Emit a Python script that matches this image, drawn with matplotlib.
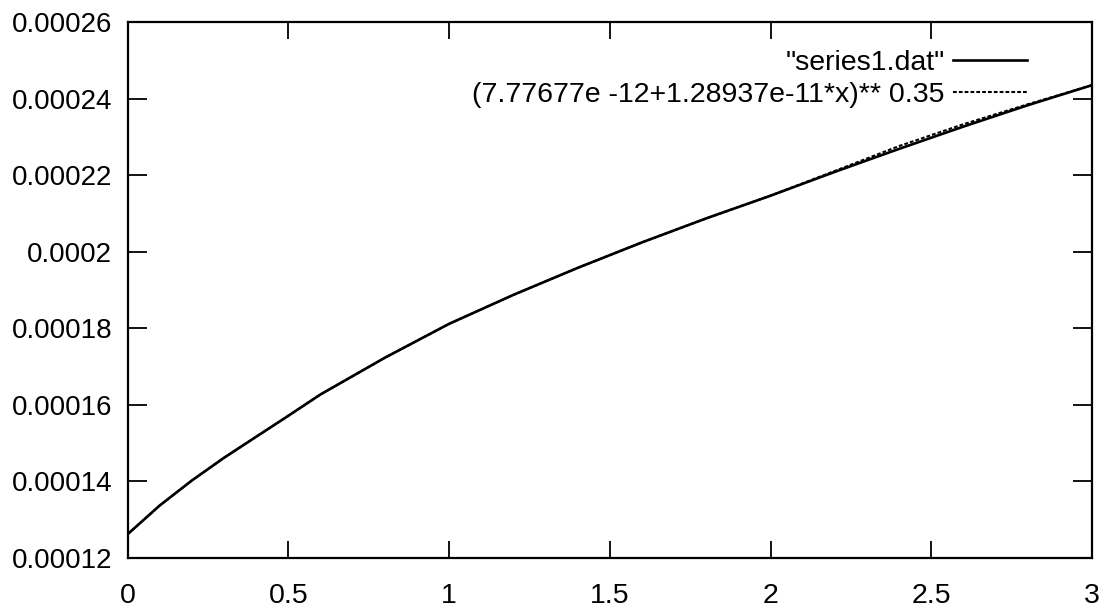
import matplotlib
matplotlib.use("Agg")
import numpy as np
from matplotlib import pyplot as plt

# values
x_data = [0, 0.1, 0.2, 0.3, 0.4, 0.5, 0.6, 0.8, 1.0, 1.2, 1.4, 1.6, 1.8,
          2.0, 2.2, 2.4, 2.6, 2.8, 3.0]
y_data = [1.2619e-4, 1.3371e-4, 1.4024e-4, 1.4617e-4, 1.5166e-4, 1.5714e-4,
          1.6271e-4, 1.7229e-4, 1.8115e-4, 1.8872e-4, 1.9577e-4, 2.0243e-4,
          2.0870e-4, 2.1463e-4, 2.2085e-4, 2.2686e-4, 2.3268e-4, 2.3825e-4,
          2.4350e-4]
# fitted curve, sits on the data except a small bump near x = 2.5
y_fit = [1.2619e-4, 1.3371e-4, 1.4024e-4, 1.4617e-4, 1.5166e-4, 1.5714e-4,
         1.6271e-4, 1.7229e-4, 1.8115e-4, 1.8872e-4, 1.9577e-4, 2.0243e-4,
         2.0870e-4, 2.1463e-4, 2.2110e-4, 2.2760e-4, 2.3330e-4, 2.3850e-4,
         2.4350e-4]

label_data = '"series1.dat"'
label_fit = '(7.77677e -12+1.28937e-11*x)** 0.35'

x_ticks = [0, 0.5, 1, 1.5, 2, 2.5, 3]
x_ticklabels = ['0', '0.5', '1', '1.5', '2', '2.5', '3']
y_ticks = [0.00012, 0.00014, 0.00016, 0.00018, 0.0002, 0.00022, 0.00024, 0.00026]
y_ticklabels = ['0.00012', '0.00014', '0.00016', '0.00018', '0.0002',
                '0.00022', '0.00024', '0.00026']

plt.rcParams['font.family'] = ['Liberation Sans', 'DejaVu Sans']
fs = 20.5

fig = plt.figure(figsize=(11.11, 6.14), dpi=100)
ax = fig.add_axes([0.1148, 0.0912, 0.8681, 0.8730])

ax.plot(x_data, y_data, color='black', lw=1.9, label=label_data)
ax.plot(x_data, y_fit, color='black', lw=1.5, linestyle=(0, (1.8, 1.0)),
        label=label_fit)

ax.set_xlim(0, 3)
ax.set_ylim(0.00012, 0.00026)
ax.set_xticks(x_ticks)
ax.set_xticklabels(x_ticklabels, fontsize=fs)
ax.set_yticks(y_ticks)
ax.set_yticklabels(y_ticklabels, fontsize=20)
ax.tick_params(axis='both', direction='in', top=True, right=True, width=1.3,
               color='black')
ax.tick_params(axis='x', length=12, pad=18)
ax.tick_params(axis='y', length=14, pad=11)
for s in ax.spines.values():
    s.set_linewidth(1.6)

ax.legend(loc='upper right', bbox_to_anchor=(0.9326, 0.948), frameon=False,
          markerfirst=False, fontsize=fs, handlelength=2.6, handletextpad=0.3,
          borderpad=0, borderaxespad=0, labelspacing=0.2)

fig.savefig('out.png', dpi=100)
